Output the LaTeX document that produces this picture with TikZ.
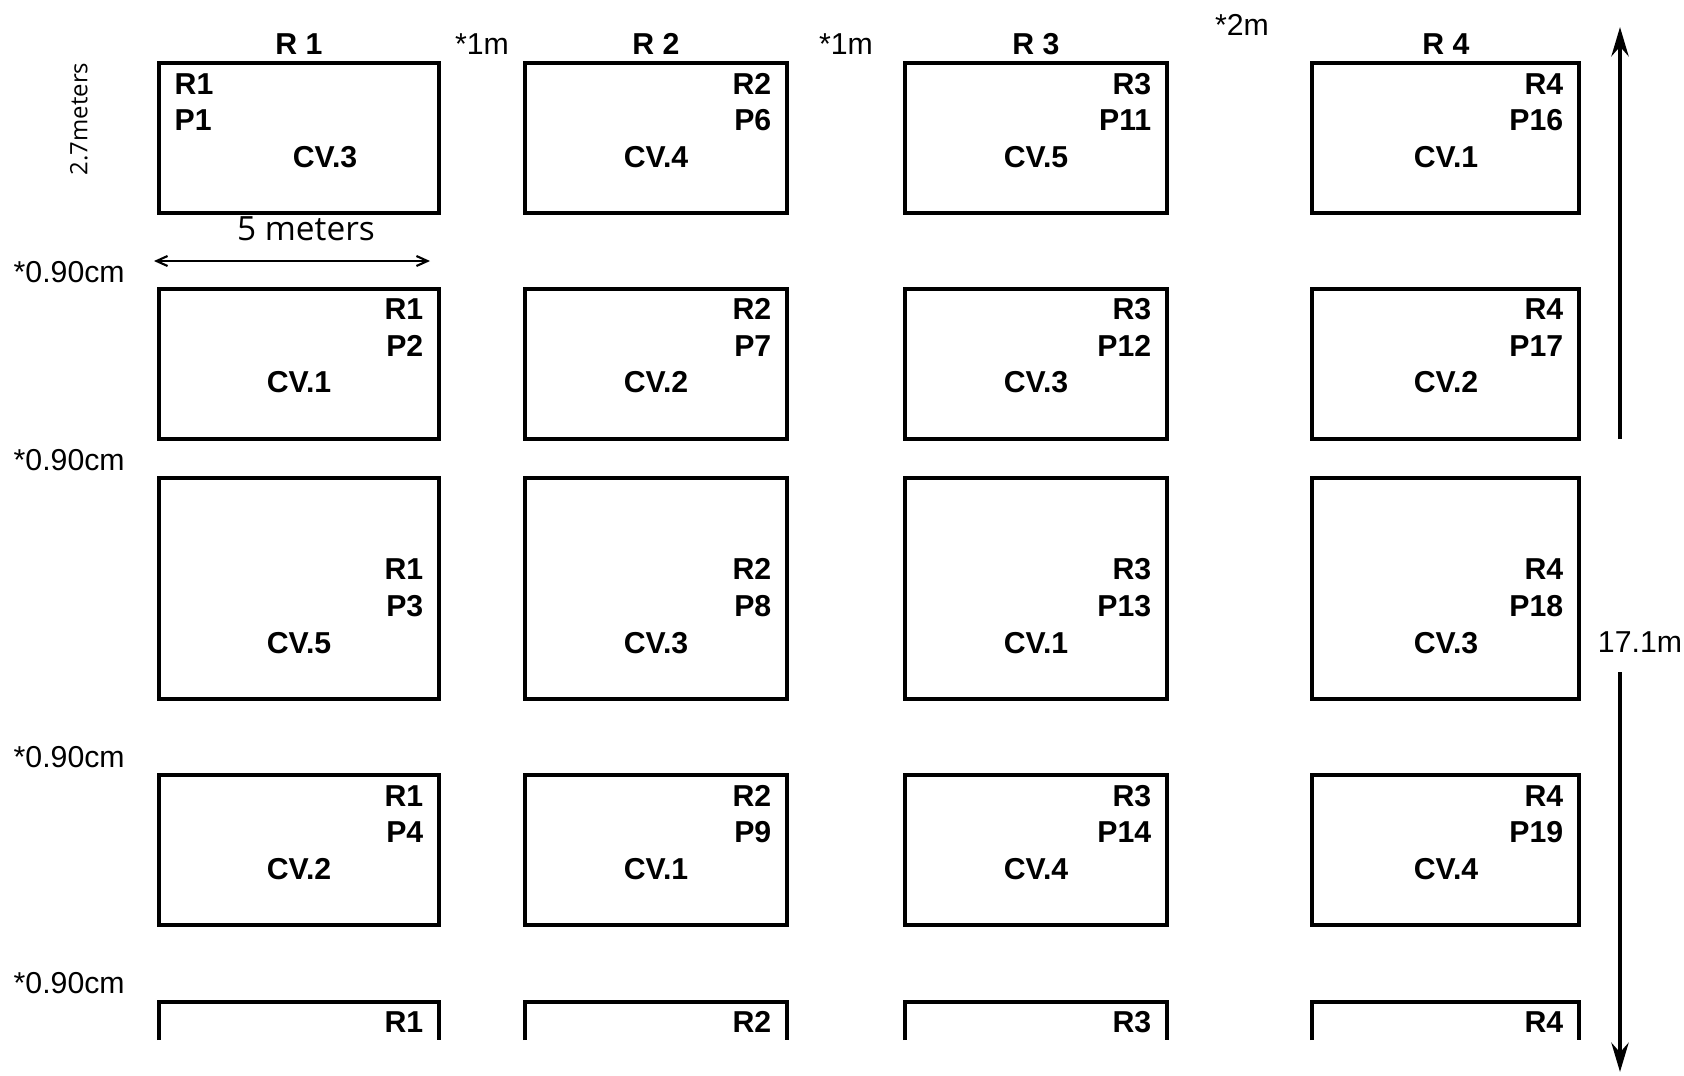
\documentclass[tikz,border=0pt]{standalone}
\usepackage{fontspec}
\usepackage{tikz}
\usetikzlibrary{arrows.meta}
\newfontfamily\plotfont{Liberation Sans}
\newfontfamily\handfont{Open Sans}

\begin{document}
\begin{tikzpicture}[
  x=0.01cm, y=-0.01cm,
  bx/.style={draw=black, line width=0.9pt},
  lb/.style={font=\plotfont\bfseries\fontsize{8.6pt}{10pt}\selectfont, inner sep=0pt},
  ann/.style={font=\plotfont\fontsize{8.6pt}{10pt}\selectfont, inner sep=0pt},
  hand/.style={font=\handfont\fontsize{9.5pt}{11pt}\selectfont, inner sep=0pt},
  dim/.style={{Straight Barb[length=1.1mm,width=1mm]}-{Straight Barb[length=1.1mm,width=1mm]}, line width=0.6pt},
  len/.style={-{Stealth[length=2.9mm,width=1.7mm]}, line width=1.4pt}
]
\useasboundingbox (0,0) rectangle (1684,1075);
%% Column headings
\node[lb] (h1) at (299,44) {R 1};
\node[lb] (h2) at (656,44) {R 2};
\node[lb] (h3) at (1036,44) {R 3};
\node[lb] (h4) at (1446,44) {R 4};
\node[ann] (g12) at (482,44) {*1m};
\node[ann] (g23) at (846,44) {*1m};
\node[ann] (g34) at (1242,25) {*2m};
%% Row 1
\draw[bx] (159,63) rectangle (439,213);
\draw[bx] (525,63) rectangle (787,213);
\draw[bx] (905,63) rectangle (1167,213);
\draw[bx] (1312,63) rectangle (1579,213);
\node[lb,anchor=west] (r1a) at (174,84) {R1};
\node[lb,anchor=west] (p1) at (174,120) {P1};
\node[lb] (cv1) at (325,157) {CV.3};
\node[lb,anchor=east] (r2a) at (772,84) {R2};
\node[lb,anchor=east] (p6) at (772,120) {P6};
\node[lb] (cv6) at (656,157) {CV.4};
\node[lb,anchor=east] (r3a) at (1152,84) {R3};
\node[lb,anchor=east] (p11) at (1152,120) {P11};
\node[lb] (cv11) at (1036,157) {CV.5};
\node[lb,anchor=east] (r4a) at (1564,84) {R4};
\node[lb,anchor=east] (p16) at (1564,120) {P16};
\node[lb] (cv16) at (1446,157) {CV.1};
%% Row 2
\draw[bx] (159,289) rectangle (439,439);
\draw[bx] (525,289) rectangle (787,439);
\draw[bx] (905,289) rectangle (1167,439);
\draw[bx] (1312,289) rectangle (1579,439);
\node[lb,anchor=east] (r1b) at (424,309) {R1};
\node[lb,anchor=east] (p2) at (424,346) {P2};
\node[lb] (cv2) at (299,382) {CV.1};
\node[lb,anchor=east] (r2b) at (772,309) {R2};
\node[lb,anchor=east] (p7) at (772,346) {P7};
\node[lb] (cv7) at (656,382) {CV.2};
\node[lb,anchor=east] (r3b) at (1152,309) {R3};
\node[lb,anchor=east] (p12) at (1152,346) {P12};
\node[lb] (cv12) at (1036,382) {CV.3};
\node[lb,anchor=east] (r4b) at (1564,309) {R4};
\node[lb,anchor=east] (p17) at (1564,346) {P17};
\node[lb] (cv17) at (1446,382) {CV.2};
%% Row 3
\draw[bx] (159,478) rectangle (439,699);
\draw[bx] (525,478) rectangle (787,699);
\draw[bx] (905,478) rectangle (1167,699);
\draw[bx] (1312,478) rectangle (1579,699);
\node[lb,anchor=east] (r1c) at (424,569) {R1};
\node[lb,anchor=east] (p3) at (424,606) {P3};
\node[lb] (cv3) at (299,643) {CV.5};
\node[lb,anchor=east] (r2c) at (772,569) {R2};
\node[lb,anchor=east] (p8) at (772,606) {P8};
\node[lb] (cv8) at (656,643) {CV.3};
\node[lb,anchor=east] (r3c) at (1152,569) {R3};
\node[lb,anchor=east] (p13) at (1152,606) {P13};
\node[lb] (cv13) at (1036,643) {CV.1};
\node[lb,anchor=east] (r4c) at (1564,569) {R4};
\node[lb,anchor=east] (p18) at (1564,606) {P18};
\node[lb] (cv18) at (1446,643) {CV.3};
%% Row 4
\draw[bx] (159,775) rectangle (439,925);
\draw[bx] (525,775) rectangle (787,925);
\draw[bx] (905,775) rectangle (1167,925);
\draw[bx] (1312,775) rectangle (1579,925);
\node[lb,anchor=east] (r1d) at (424,796) {R1};
\node[lb,anchor=east] (p4) at (424,832) {P4};
\node[lb] (cv4) at (299,869) {CV.2};
\node[lb,anchor=east] (r2d) at (772,796) {R2};
\node[lb,anchor=east] (p9) at (772,832) {P9};
\node[lb] (cv9) at (656,869) {CV.1};
\node[lb,anchor=east] (r3d) at (1152,796) {R3};
\node[lb,anchor=east] (p14) at (1152,832) {P14};
\node[lb] (cv14) at (1036,869) {CV.4};
\node[lb,anchor=east] (r4d) at (1564,796) {R4};
\node[lb,anchor=east] (p19) at (1564,832) {P19};
\node[lb] (cv19) at (1446,869) {CV.4};
%% Row 5 (cut off)
\draw[bx] (159,1040) -- (159,1002) -- (439,1002) -- (439,1040);
\draw[bx] (525,1040) -- (525,1002) -- (787,1002) -- (787,1040);
\draw[bx] (905,1040) -- (905,1002) -- (1167,1002) -- (1167,1040);
\draw[bx] (1312,1040) -- (1312,1002) -- (1579,1002) -- (1579,1040);
\node[lb,anchor=east] (r1e) at (424,1022) {R1};
\node[lb,anchor=east] (r2e) at (772,1022) {R2};
\node[lb,anchor=east] (r3e) at (1152,1022) {R3};
\node[lb,anchor=east] (r4e) at (1564,1022) {R4};
%% Row gaps
\node[ann,anchor=west] (s12) at (13,272) {*0.90cm};
\node[ann,anchor=west] (s23) at (13,460) {*0.90cm};
\node[ann,anchor=west] (s34) at (13,757) {*0.90cm};
\node[ann,anchor=west] (s45) at (13,983) {*0.90cm};
%% Plot size
\node[hand,rotate=90,font=\handfont\fontsize{6.8pt}{8pt}\selectfont] (pht) at (79,119) {2.7meters};
\node[hand] (pwd) at (306,229) {5 meters};
\coordinate (wl) at (154,261);
\coordinate (wr) at (430,261);
\draw[dim] (wl) -- (wr);
%% Field length
\node[ann] (flen) at (1640,642) {17.1m};
\coordinate (ft) at (1620,27);
\coordinate (fm) at (1620,439);
\coordinate (fn) at (1620,672);
\coordinate (fb) at (1620,1072);
\draw[len] (fm) -- (ft);
\draw[len] (fn) -- (fb);
\end{tikzpicture}
\end{document}
